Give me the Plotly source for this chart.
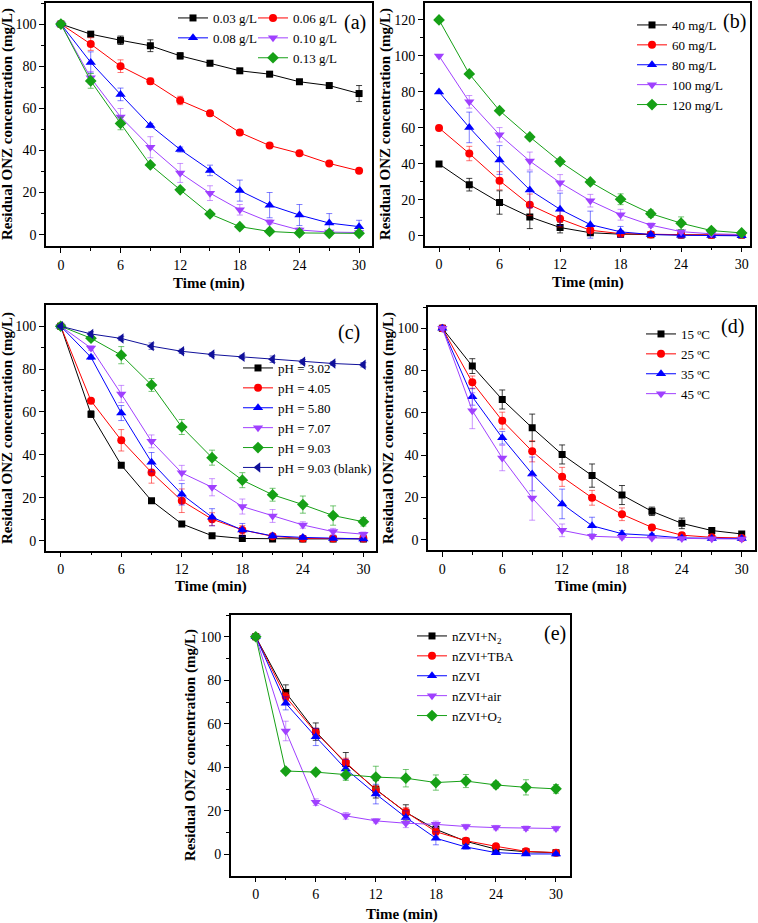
import plotly.graph_objects as go

# ---------------- data ----------------
time_min = [0, 3, 6, 9, 12, 15, 18, 21, 24, 27, 30]

# (a) nZVI dosage
a_labels = ["0.03 g/L", "0.06 g/L", "0.08 g/L", "0.10 g/L", "0.13 g/L"]
a_003 = [100, 95.2, 92.3, 89.7, 84.9, 81.4, 77.8, 76.2, 72.6, 70.8, 67.0]
a_003_err = [0.5, 1.0, 2.0, 2.8, 1.5, 1.2, 0.8, 1.0, 1.0, 1.0, 3.8]
a_006 = [100, 90.5, 80.0, 72.8, 63.7, 57.6, 48.5, 42.3, 38.6, 33.8, 30.3]
a_006_err = [0.5, 3.0, 3.0, 1.5, 2.0, 1.2, 0.6, 0.6, 0.6, 0.6, 0.6]
a_008 = [100, 81.8, 66.6, 51.8, 40.4, 30.5, 20.9, 14.0, 9.3, 5.5, 3.8]
a_008_err = [0.5, 5.0, 3.0, 1.0, 1.2, 2.5, 5.0, 6.0, 5.0, 4.5, 3.0]
a_010 = [100, 74.5, 55.9, 41.5, 29.3, 19.7, 11.8, 6.0, 2.2, 1.2, 1.0]
a_010_err = [0.5, 3.0, 4.0, 5.0, 4.5, 3.5, 2.5, 1.0, 1.0, 0.5, 0.5]
a_013 = [100, 73.0, 52.8, 33.1, 21.3, 9.8, 3.8, 1.5, 0.8, 0.6, 0.6]
a_013_err = [0.5, 3.5, 3.0, 1.0, 0.8, 0.6, 0.6, 0.5, 0.5, 0.5, 0.5]

# (b) initial concentration
b_labels = ["40 mg/L", "60 mg/L", "80 mg/L", "100 mg/L", "120 mg/L"]
b_40 = [40, 28.5, 18.6, 10.6, 4.7, 1.8, 1.0, 0.7, 0.6, 0.5, 0.5]
b_40_err = [0.5, 3.5, 6.5, 6.5, 3.0, 1.0, 0.8, 0.5, 0.5, 0.5, 0.5]
b_60 = [60, 45.8, 30.7, 17.3, 9.5, 3.2, 1.3, 0.8, 0.7, 0.6, 0.5]
b_60_err = [0.5, 4.0, 5.0, 6.0, 4.5, 1.5, 0.8, 0.5, 0.5, 0.5, 0.5]
b_80 = [80, 60.3, 42.2, 25.6, 14.8, 6.3, 2.3, 0.8, 0.4, 0.2, 0.1]
b_80_err = [0.5, 8.5, 8.0, 10.0, 9.0, 7.5, 3.0, 1.0, 1.5, 0.5, 0.5]
b_100 = [100, 74.5, 56.2, 41.6, 29.6, 19.6, 11.8, 6.0, 2.4, 1.2, 0.8]
b_100_err = [0.5, 3.5, 4.0, 5.0, 4.5, 3.5, 3.0, 1.2, 0.8, 0.5, 0.5]
b_120 = [120, 90.0, 69.6, 55.0, 41.3, 30.0, 20.4, 12.4, 7.1, 3.0, 1.7]
b_120_err = [0.5, 0.8, 0.8, 0.8, 0.8, 0.8, 3.0, 2.0, 3.5, 1.0, 1.0]

# (c) pH
c_labels = ["pH = 3.02", "pH = 4.05", "pH = 5.80", "pH = 7.07", "pH = 9.03", "pH = 9.03 (blank)"]
c_302 = [100, 59.0, 35.2, 18.6, 7.8, 2.3, 1.0, 0.8, 0.8, 0.8, 0.8]
c_302_err = [0.5, 1.5, 0.8, 0.8, 0.8, 0.8, 0.8, 0.5, 0.5, 0.5, 0.5]
c_405 = [100, 65.2, 46.8, 31.8, 18.6, 10.0, 5.0, 2.0, 1.0, 1.0, 1.0]
c_405_err = [0.5, 1.0, 5.0, 5.0, 5.5, 3.0, 2.0, 0.8, 0.5, 0.5, 0.5]
c_580 = [100, 85.5, 59.5, 36.6, 21.6, 10.9, 5.0, 2.2, 1.5, 1.0, 0.8]
c_580_err = [0.5, 1.0, 3.5, 4.5, 5.0, 4.0, 3.0, 1.0, 0.8, 0.5, 0.5]
c_707 = [100, 89.8, 68.4, 46.3, 31.6, 24.9, 15.9, 11.5, 7.3, 4.2, 3.0]
c_707_err = [0.5, 1.0, 4.0, 3.0, 3.5, 4.0, 3.5, 3.0, 1.5, 1.5, 1.0]
c_903 = [100, 94.4, 86.5, 72.6, 53.0, 38.7, 28.2, 21.4, 16.8, 11.7, 8.8]
c_903_err = [0.5, 1.0, 4.0, 3.0, 3.5, 3.5, 3.5, 3.0, 4.0, 4.5, 2.0]
c_blank = [100, 96.4, 94.3, 90.7, 88.3, 86.8, 85.7, 84.6, 83.4, 82.6, 82.0]
c_blank_err = [0.5, 1.0, 1.0, 1.5, 1.0, 0.8, 0.8, 1.5, 1.0, 0.8, 1.0]

# (d) temperature
d_labels = ["15 ºC", "25 ºC", "35 ºC", "45 ºC"]
d_15 = [100, 82.1, 66.3, 52.9, 40.3, 30.3, 21.1, 13.4, 7.7, 4.3, 2.7]
d_15_err = [1.0, 3.5, 4.5, 6.5, 4.5, 5.5, 4.5, 2.0, 2.5, 1.0, 0.8]
d_25 = [100, 74.4, 56.3, 41.8, 29.7, 19.8, 12.0, 5.8, 2.1, 1.1, 0.8]
d_25_err = [1.0, 3.0, 4.0, 5.0, 4.5, 3.5, 3.0, 1.0, 1.0, 0.5, 0.5]
d_35 = [100, 67.6, 48.2, 31.1, 16.9, 6.6, 2.8, 2.0, 0.8, 0.5, 0.5]
d_35_err = [1.0, 4.0, 3.0, 8.0, 7.0, 4.0, 1.5, 0.8, 0.5, 0.5, 0.5]
d_45 = [100, 61.0, 38.6, 19.7, 4.4, 1.6, 1.1, 0.8, 0.5, 0.4, 0.3]
d_45_err = [1.0, 8.5, 6.0, 10.5, 3.0, 1.0, 0.8, 0.5, 0.5, 0.5, 0.5]

# (e) atmosphere / scavenger
e_labels = ["nZVI+N<sub>2</sub>", "nZVI+TBA", "nZVI", "nZVI+air", "nZVI+O<sub>2</sub>"]
e_n2 = [100, 74.4, 56.4, 41.8, 29.9, 19.3, 11.5, 6.0, 2.4, 1.2, 0.8]
e_n2_err = [0.5, 3.5, 4.0, 5.0, 4.0, 3.5, 2.0, 1.0, 0.8, 0.8, 0.8]
e_tba = [100, 72.4, 56.0, 42.2, 29.7, 19.5, 10.4, 6.3, 3.7, 1.4, 0.8]
e_tba_err = [0.5, 2.0, 2.0, 2.0, 2.0, 2.0, 2.0, 1.0, 0.8, 0.8, 0.8]
e_nzvi = [100, 69.4, 54.0, 39.2, 27.7, 17.0, 7.4, 3.4, 0.8, 0.2, 0.2]
e_nzvi_err = [0.5, 3.0, 4.0, 4.5, 4.5, 3.0, 3.0, 1.0, 0.8, 0.5, 0.5]
e_air = [100, 56.7, 24.0, 17.7, 15.4, 14.3, 13.8, 12.8, 12.3, 12.0, 11.9]
e_air_err = [0.5, 4.5, 1.5, 1.5, 1.0, 2.0, 1.5, 1.0, 1.0, 1.0, 1.0]
e_o2 = [100, 38.3, 37.8, 36.5, 35.5, 35.0, 33.0, 33.7, 31.9, 30.8, 30.1]
e_o2_err = [0.5, 1.0, 1.0, 2.5, 5.0, 4.0, 3.5, 3.0, 1.5, 3.5, 2.0]

x_title = "Time (min)"
y_title = "Residual ONZ concentration (mg/L)"

# ---------------- styling ----------------
W, H = 758, 923
FONT = "Liberation Serif, Times New Roman, serif"
BLACK, RED, BLUE, PURPLE, GREEN, NAVY = "#000000", "#FF0000", "#0000FF", "#A040FF", "#16A016", "#10109A"
ERRC = {BLACK: "rgba(0,0,0,0.75)", RED: "rgba(255,0,0,0.55)", BLUE: "rgba(0,0,255,0.5)",
        PURPLE: "rgba(160,64,255,0.55)", GREEN: "rgba(22,160,22,0.6)", NAVY: "rgba(16,16,154,0.6)"}
SYM = {"sq": ("square", 7), "ci": ("circle", 8), "tu": ("triangle-up", 9),
       "td": ("triangle-down", 9), "di": ("diamond", 9), "tl": ("triangle-left", 9)}

fig = go.Figure()


def add_series(ax, leg, name, y, err, color, sym):
    s, sz = SYM[sym]
    sfx = "" if ax == 1 else str(ax)
    fig.add_trace(go.Scatter(
        x=time_min, y=y, name=name, mode="lines+markers",
        xaxis="x" + sfx, yaxis="y" + sfx, legend=leg,
        line=dict(color=color, width=1),
        marker=dict(symbol=s, size=sz, color=color, line=dict(width=0)),
        error_y=dict(type="data", array=err, color=ERRC[color], thickness=1, width=3),
    ))


# (a)
add_series(1, "legend", a_labels[0], a_003, a_003_err, BLACK, "sq")
add_series(1, "legend2", a_labels[1], a_006, a_006_err, RED, "ci")
add_series(1, "legend", a_labels[2], a_008, a_008_err, BLUE, "tu")
add_series(1, "legend2", a_labels[3], a_010, a_010_err, PURPLE, "td")
add_series(1, "legend2", a_labels[4], a_013, a_013_err, GREEN, "di")
# (b)
for lab, y, e, c, s in zip(b_labels, [b_40, b_60, b_80, b_100, b_120],
                           [b_40_err, b_60_err, b_80_err, b_100_err, b_120_err],
                           [BLACK, RED, BLUE, PURPLE, GREEN], ["sq", "ci", "tu", "td", "di"]):
    add_series(2, "legend3", lab, y, e, c, s)
# (c)
for lab, y, e, c, s in zip(c_labels, [c_302, c_405, c_580, c_707, c_903, c_blank],
                           [c_302_err, c_405_err, c_580_err, c_707_err, c_903_err, c_blank_err],
                           [BLACK, RED, BLUE, PURPLE, GREEN, NAVY], ["sq", "ci", "tu", "td", "di", "tl"]):
    add_series(3, "legend4", lab, y, e, c, s)
# (d)
for lab, y, e, c, s in zip(d_labels, [d_15, d_25, d_35, d_45],
                           [d_15_err, d_25_err, d_35_err, d_45_err],
                           [BLACK, RED, BLUE, PURPLE], ["sq", "ci", "tu", "td"]):
    add_series(4, "legend5", lab, y, e, c, s)
# (e)
for lab, y, e, c, s in zip(e_labels, [e_n2, e_tba, e_nzvi, e_air, e_o2],
                           [e_n2_err, e_tba_err, e_nzvi_err, e_air_err, e_o2_err],
                           [BLACK, RED, BLUE, PURPLE, GREEN], ["sq", "ci", "tu", "td", "di"]):
    add_series(5, "legend6", lab, y, e, c, s)

# panel geometry in pixels: (left, right, top, bottom), x range, y range
panels = [
    ((46, 372, 3, 246), [-1.5, 31.3], [-5.4, 110]),
    ((424.7, 749.7, 3, 245.7), [-1.42, 30.8], [-5.4, 129.4]),
    ((45.7, 376, 305, 550.7), [-1.49, 31.25], [-4.7, 109.9]),
    ((428, 754.7, 306.7, 550), [-1.44, 31.3], [-4.9, 110.2]),
    ((230.7, 570, 615, 875.7), [-2.5, 31.4], [-9.8, 110]),
]
# axis-title centres (px): x-title (x, y), y-title (x, y)
title_pos = [
    ((209, 283), (8, 124)),
    ((588, 282), (386, 124)),
    ((211, 586), (8, 428)),
    ((591, 586), (389, 428)),
    ((402, 914), (190, 745)),
]

layout = dict(
    width=W, height=H, margin=dict(l=0, r=0, t=0, b=0),
    paper_bgcolor="white", plot_bgcolor="white",
    font=dict(family=FONT, size=13, color="black"),
    annotations=[],
)

for i, (((l, r, t, b), xr, yr), ((xtx, xty), (ytx, yty))) in enumerate(zip(panels, title_pos), start=1):
    sfx = "" if i == 1 else str(i)
    common = dict(
        showline=True, linecolor="black", linewidth=1.5, mirror=True,
        ticks="outside", tickcolor="black", tickwidth=1.2, ticklen=5,
        showgrid=False, zeroline=False,
        tickfont=dict(family=FONT, size=14, color="black"),
    )
    layout["xaxis" + sfx] = dict(
        common, domain=[l / W, r / W], range=xr, anchor="y" + sfx,
        tickmode="linear", tick0=0, dtick=6,
        minor=dict(ticks="outside", ticklen=3, dtick=3, tick0=0, tickcolor="black", tickwidth=1),
    )
    layout["yaxis" + sfx] = dict(
        common, domain=[1 - b / H, 1 - t / H], range=yr, anchor="x" + sfx,
        tickmode="linear", tick0=0, dtick=20,
        minor=dict(ticks="outside", ticklen=3, dtick=10, tick0=0, tickcolor="black", tickwidth=1),
    )
    layout["annotations"].append(dict(
        text="<b>" + x_title + "</b>", xref="paper", yref="paper", x=xtx / W, y=1 - xty / H,
        xanchor="center", yanchor="middle", showarrow=False,
        font=dict(family=FONT, size=15, color="black")))
    layout["annotations"].append(dict(
        text="<b>" + y_title + "</b>", xref="paper", yref="paper", x=ytx / W, y=1 - yty / H,
        xanchor="center", yanchor="middle", showarrow=False, textangle=-90,
        font=dict(family=FONT, size=15, color="black")))

label_pos = {
    "(a)": (368, 22), "(b)": (748, 21), "(c)": (362, 332), "(d)": (746, 326), "(e)": (568, 633),
}
for lab, (px, py) in label_pos.items():
    layout["annotations"].append(dict(
        text=lab, xref="paper", yref="paper", x=px / W, y=1 - py / H,
        xanchor="right", yanchor="middle", showarrow=False,
        font=dict(family=FONT, size=20, color="black"),
    ))


def legend_at(px_left, py_top):
    return dict(x=px_left / W, y=1 - py_top / H, xanchor="left", yanchor="top",
                bgcolor="rgba(0,0,0,0)", borderwidth=0, tracegroupgap=0,
                font=dict(family=FONT, size=13, color="black"))


layout["legend"] = legend_at(173, 3)
layout["legend2"] = legend_at(253, 3)
layout["legend3"] = legend_at(632, 10)
layout["legend4"] = legend_at(238, 353)
layout["legend5"] = legend_at(641, 319)
layout["legend6"] = legend_at(412, 621)
layout["showlegend"] = True

fig.update_layout(layout)
fig.write_html("out.html", config={"displayModeBar": False},
               post_script="document.body.style.margin='0';document.body.style.padding='0';")
